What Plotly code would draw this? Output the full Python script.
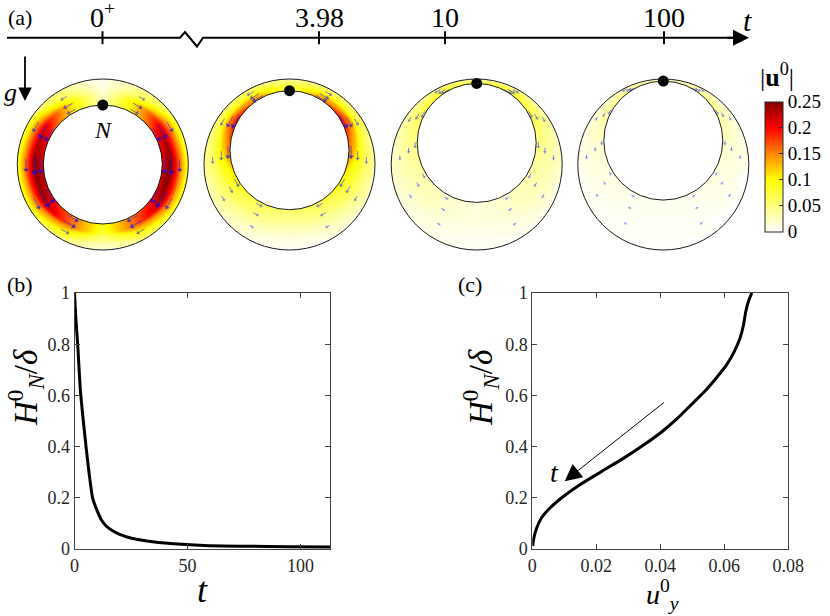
import numpy as np
import plotly.graph_objects as go

SERIF = "Liberation Serif"
W, H = 830, 616

# ---------------- data ----------------
# panel (b): H_N^0/delta against t
t_b = [0, 0.6, 1.4, 2.6, 3.9, 5.1, 6.4, 8.0, 10, 12, 14, 16.5, 20, 23.2, 28, 32,
       42.6, 57.4, 75, 95, 113]
h_b = [1.0, 0.9, 0.8, 0.62, 0.5, 0.4, 0.3, 0.2, 0.15, 0.112, 0.09, 0.073, 0.057,
       0.047, 0.037, 0.031, 0.021, 0.014, 0.011, 0.009, 0.008]

# panel (c): H_N^0/delta against u_y^0
uy_c = [0.0686, 0.0675, 0.0667, 0.0660, 0.0649, 0.0631, 0.0607, 0.0575, 0.0539,
        0.0497, 0.0455, 0.0407, 0.0350, 0.0287, 0.0218, 0.0150, 0.0098, 0.0056,
        0.0029, 0.0014, 0.0005, 0.0001]
h_c = [1.0, 0.966, 0.927, 0.875, 0.823, 0.771, 0.719, 0.668, 0.616, 0.564,
       0.512, 0.460, 0.408, 0.356, 0.304, 0.252, 0.206, 0.161, 0.122, 0.083,
       0.044, 0.012]

# panel (a): snapshots
snap_labels = ["0<sup>+</sup>", "3.98", "10", "100"]
snap_gap = [1.0, 0.45, 0.17, 0.08]          # film thickness at N, H_N^0/delta
speed_angles = [0, 30, 60, 90, 120, 150, 180]  # degrees from the top, symmetric
speed_radial = [0, 1 / 3, 2 / 3, 1]            # inner wall -> outer wall

# |u^0| at the stations, rows inner -> outer
speed_t0 = [[0.03, 0.11, 0.19, 0.21, 0.21, 0.16, 0.09],
            [0.02, 0.12, 0.22, 0.25, 0.24, 0.17, 0.08],
            [0.01, 0.07, 0.14, 0.16, 0.15, 0.10, 0.04],
            [0.005, 0.04, 0.07, 0.08, 0.08, 0.05, 0.01]]
speed_t398 = [[0.07, 0.15, 0.20, 0.16, 0.10, 0.07, 0.06],
              [0.07, 0.12, 0.15, 0.10, 0.07, 0.05, 0.04],
              [0.06, 0.08, 0.08, 0.06, 0.045, 0.025, 0.015],
              [0.04, 0.05, 0.05, 0.04, 0.025, 0.01, 0.003]]
speed_t10 = [[0.06, 0.09, 0.07, 0.05, 0.035, 0.02, 0.015],
             [0.06, 0.08, 0.06, 0.04, 0.03, 0.02, 0.012],
             [0.05, 0.06, 0.045, 0.03, 0.02, 0.012, 0.008],
             [0.04, 0.04, 0.03, 0.02, 0.012, 0.006, 0.004]]
speed_t100 = [[0.03, 0.05, 0.04, 0.025, 0.012, 0.008, 0.006],
              [0.03, 0.045, 0.03, 0.018, 0.01, 0.006, 0.005],
              [0.025, 0.03, 0.02, 0.012, 0.007, 0.004, 0.003],
              [0.02, 0.02, 0.012, 0.007, 0.004, 0.002, 0.002]]
speeds = [speed_t0, speed_t398, speed_t10, speed_t100]

# ---------------- layout of panel (a), in pixels ----------------
CX = [102.8, 289.5, 476.7, 663.3]       # snapshot centres
TICK_X = [102.5, 319, 445, 664]         # where the times sit on the t axis
CY = 164.5
R_OUT, R_IN = 85.5, 59.5
T_LINE_Y = 37.7

HOT = [[0, "#ffffff"], [0.4, "#ffff00"], [0.6, "#ff8800"], [0.8, "#ff0000"],
       [1, "#800000"]]


def inner_cy(k):
    return CY - (R_OUT - R_IN) * (1 - snap_gap[k])


def ring_xy(k, ang, frac):
    th = np.radians(ang)
    xin = CX[k] + R_IN * np.sin(th)
    yin = inner_cy(k) - R_IN * np.cos(th)
    xout = CX[k] + R_OUT * np.sin(th)
    yout = CY - R_OUT * np.cos(th)
    return xin + frac * (xout - xin), yin + frac * (yout - yin)


def pp(x, y):
    """pixel -> paper coordinates"""
    return x / W, 1 - y / H


fig = go.Figure()

# full circle of stations, mirrored about the vertical
a_full = speed_angles + [360 - a for a in speed_angles[-2::-1]]
hidden = dict(showgrid=False, showline=False, showticklabels="none",
              startline=False, endline=False, minorgridcount=0)

for k in range(4):
    A, B = np.meshgrid(a_full, speed_radial)
    xs, ys = ring_xy(k, A, B)
    z = [row + row[-2::-1] for row in speeds[k]]
    cid = f"snap{k}"
    fig.add_trace(go.Carpet(a=a_full, b=speed_radial, x=xs.tolist(), y=ys.tolist(),
                            carpet=cid, xaxis="x3", yaxis="y3",
                            aaxis=hidden, baxis=hidden))
    cb = dict(x=765 / W, xanchor="left", y=1 - 166.7 / H, yanchor="middle",
              len=130, lenmode="pixels", thickness=18, outlinewidth=1,
              outlinecolor="#262626", ticks="inside", ticklen=4,
              tickcolor="#262626", xpad=0, ypad=0,
              tickvals=[0, 0.05, 0.1, 0.15, 0.2, 0.25],
              ticktext=["0", "0.05", "0.1", "0.15", "0.2", "0.25"],
              tickfont=dict(family=SERIF, size=19, color="black"))
    fig.add_trace(go.Contourcarpet(
        carpet=cid, a=a_full, b=speed_radial, z=z, xaxis="x3", yaxis="y3",
        autocontour=False,
        contours=dict(start=0, end=0.25, size=0.0025, coloring="fill",
                      showlines=False),
        line=dict(width=0), colorscale=HOT, zmin=0, zmax=0.25,
        showscale=(k == 0), colorbar=cb))

    # velocity arrows (blue quiver), tangential, running down the sides
    qx, qy, hx, hy, hang, hsize, hcol = [], [], [], [], [], [], []
    for j, ang in enumerate(speed_angles[1:-1], start=1):
        for side in (1, -1):
            a_deg = ang if side == 1 else 360 - ang
            th = np.radians(a_deg)
            d = np.array([np.cos(th), np.sin(th)]) * side
            for i, frac in enumerate([0.08, 1 / 3, 2 / 3]):
                v = speeds[k][i][j]
                L = 55 * v + 2
                px_, py_ = ring_xy(k, a_deg, frac)
                x0, y0 = px_ - d[0] * L / 2, py_ - d[1] * L / 2
                x1, y1 = px_ + d[0] * L / 2, py_ + d[1] * L / 2
                qx += [x0, x1, None]
                qy += [y0, y1, None]
                hx.append(x1)
                hy.append(y1)
                hang.append(float(np.degrees(np.arctan2(d[0], -d[1]))))
                hsize.append(3 + 12 * v)
                hcol.append(f"rgba(0,0,255,{min(0.9, 0.35 + 3 * v):.2f})")
    fig.add_trace(go.Scatter(x=qx, y=qy, mode="lines", xaxis="x3", yaxis="y3",
                             line=dict(color="rgba(40,40,255,0.6)", width=1),
                             hoverinfo="skip", showlegend=False))
    fig.add_trace(go.Scatter(x=hx, y=hy, mode="markers", xaxis="x3", yaxis="y3",
                             marker=dict(symbol="triangle-up", size=hsize,
                                         angle=hang, color=hcol,
                                         line=dict(width=0)),
                             hoverinfo="skip", showlegend=False))

    # walls
    fig.add_shape(type="circle", xref="x3", yref="y3",
                  x0=CX[k] - R_OUT, x1=CX[k] + R_OUT, y0=CY - R_OUT, y1=CY + R_OUT,
                  line=dict(color="#1a1a1a", width=1))
    fig.add_shape(type="circle", xref="x3", yref="y3",
                  x0=CX[k] - R_IN, x1=CX[k] + R_IN,
                  y0=inner_cy(k) - R_IN, y1=inner_cy(k) + R_IN,
                  line=dict(color="#1a1a1a", width=1))

    # time axis tick and label
    fig.add_shape(type="line", xref="x3", yref="y3", x0=TICK_X[k], x1=TICK_X[k],
                  y0=T_LINE_Y - 6.5, y1=T_LINE_Y + 6.5,
                  line=dict(color="black", width=2))
    fig.add_annotation(x=TICK_X[k], y=T_LINE_Y - 3, xref="x3", yref="y3",
                       text=snap_labels[k], showarrow=False, yanchor="bottom",
                       xanchor="center",
                       font=dict(family=SERIF, size=28, color="black"))

# point N at the top of each bubble
fig.add_trace(go.Scatter(x=CX, y=[inner_cy(k) - R_IN for k in range(4)],
                         mode="markers", xaxis="x3", yaxis="y3",
                         marker=dict(color="black", size=11),
                         hoverinfo="skip", showlegend=False))

# time axis with a break
fig.add_shape(type="path", xref="x3", yref="y3",
              path=(f"M 7,{T_LINE_Y} L 180,{T_LINE_Y} L 185,32 L 197,46.5 "
                    f"L 203,{T_LINE_Y} L 738,{T_LINE_Y}"),
              line=dict(color="black", width=2))
fig.add_annotation(x=749, y=T_LINE_Y, ax=725, ay=T_LINE_Y, xref="x3", yref="y3",
                   axref="x3", ayref="y3", text="", showarrow=True,
                   arrowhead=2, arrowsize=1.6, arrowwidth=2, arrowcolor="black")
fig.add_annotation(x=747, y=20, xref="x3", yref="y3", text="<i>t</i>",
                   showarrow=False, font=dict(family=SERIF, size=30, color="black"))

# gravity arrow
fig.add_annotation(x=25, y=101, ax=25, ay=55, xref="x3", yref="y3",
                   axref="x3", ayref="y3", text="", showarrow=True,
                   arrowhead=2, arrowsize=1.5, arrowwidth=1.8, arrowcolor="black")
fig.add_annotation(x=10, y=92, xref="x3", yref="y3", text="<i>g</i>",
                   showarrow=False, font=dict(family=SERIF, size=26, color="black"))
fig.add_annotation(x=103, y=130, xref="x3", yref="y3", text="<i>N</i>",
                   showarrow=False, font=dict(family=SERIF, size=24, color="black"))

# ---------------- panels (b) and (c) ----------------
fig.add_trace(go.Scatter(x=t_b, y=h_b, mode="lines", xaxis="x", yaxis="y",
                         line=dict(color="black", width=3, shape="spline",
                                   smoothing=0.6), showlegend=False))
fig.add_trace(go.Scatter(x=uy_c, y=h_c, mode="lines", xaxis="x2", yaxis="y2",
                         line=dict(color="black", width=3, shape="spline",
                                   smoothing=0.6), showlegend=False))

fig.add_annotation(x=0.0101, y=0.265, ax=0.0416, ay=0.577, xref="x2", yref="y2",
                   axref="x2", ayref="y2", text="", showarrow=True,
                   arrowhead=2, arrowsize=3.4, arrowwidth=1, arrowcolor="black")
fig.add_annotation(x=0.0068, y=0.297, xref="x2", yref="y2", text="<i>t</i>",
                   showarrow=False, font=dict(family=SERIF, size=28, color="black"))

ax_style = dict(showline=True, linecolor="#404040", linewidth=1, mirror="ticks",
                ticks="inside", ticklen=5, tickcolor="#404040", showgrid=False,
                zeroline=False, automargin=False,
                tickfont=dict(family=SERIF, size=18, color="#262626"))
yticks = dict(tickvals=[0, 0.2, 0.4, 0.6, 0.8, 1],
              ticktext=["0", "0.2", "0.4", "0.6", "0.8", "1"])

fig.update_layout(
    width=W, height=H,
    margin=dict(l=0, r=0, t=0, b=0, pad=0, autoexpand=False),
    paper_bgcolor="white", plot_bgcolor="white", showlegend=False,
    xaxis=dict(domain=[74.5 / W, 330 / W], range=[0, 113], anchor="y",
               tickvals=[0, 50, 100], **ax_style),
    yaxis=dict(domain=[1 - 549 / H, 1 - 293 / H], range=[0, 1], anchor="x",
               **yticks, **ax_style),
    xaxis2=dict(domain=[532.3 / W, 788.3 / W], range=[0, 0.08], anchor="y2",
                tickvals=[0, 0.02, 0.04, 0.06, 0.08],
                ticktext=["0", "0.02", "0.04", "0.06", "0.08"], **ax_style),
    yaxis2=dict(domain=[1 - 549 / H, 1 - 293 / H], range=[0, 1], anchor="x2",
                **yticks, **ax_style),
    xaxis3=dict(domain=[0, 1], range=[0, W], anchor="y3", visible=False),
    yaxis3=dict(domain=[1 - 260 / H, 1], range=[260, 0], anchor="x3",
                visible=False),
)

labels = [
    ("(a)", 20, 17, 22, 0),
    ("(b)", 20, 284, 22, 0),
    ("(c)", 470, 284, 22, 0),
    ("|<b>u</b><sup>0</sup>|", 777, 76, 26, 0),
    ("<i>H</i><sup>0</sup><sub><i>N</i></sub>/<i>δ</i>", 25, 388, 33, -90),
    ("<i>H</i><sup>0</sup><sub><i>N</i></sub>/<i>δ</i>", 480, 388, 33, -90),
    ("<i>t</i>", 202, 590, 36, 0),
    ("<i>u</i><sup>0</sup><sub><i>y</i></sub>", 662, 594, 28, 0),
]
for text, x, y, size, rot in labels:
    px, py = pp(x, y)
    fig.add_annotation(x=px, y=py, xref="paper", yref="paper", text=text,
                       showarrow=False, textangle=rot, xanchor="center",
                       yanchor="middle",
                       font=dict(family=SERIF, size=size, color="black"))

# the page's default 8px body margin would push the figure off the window
fig.write_html("out.html", config={"displayModeBar": False},
               post_script="document.body.style.margin='0';"
                           "document.body.style.overflow='hidden';")
